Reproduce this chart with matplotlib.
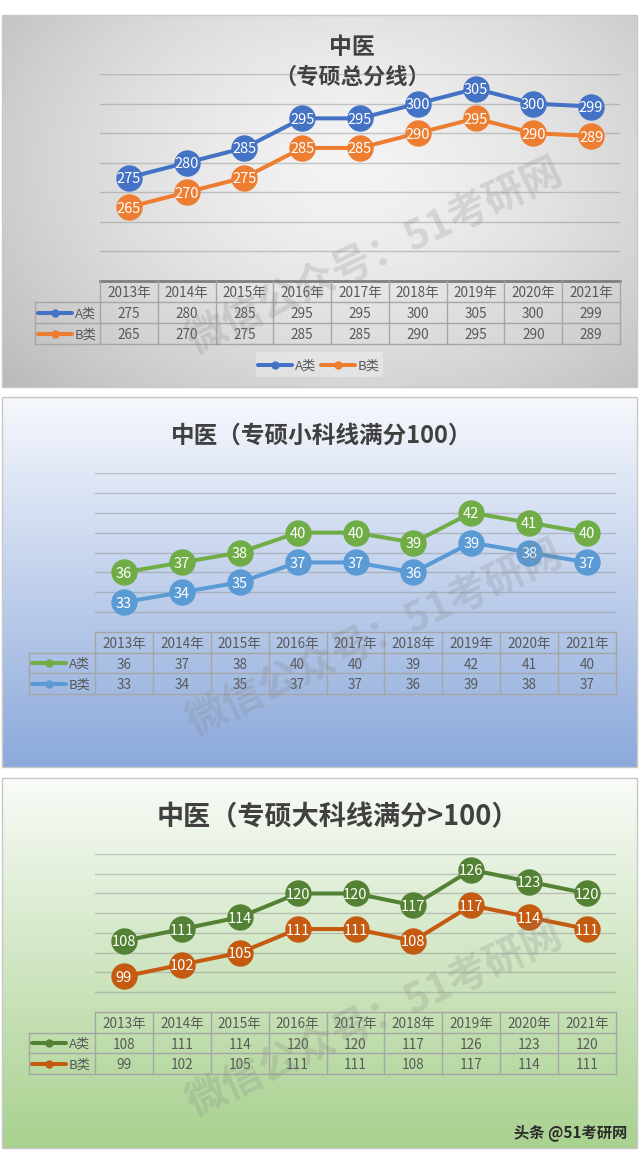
import numpy as np
import matplotlib
matplotlib.use('Agg')
import matplotlib.pyplot as plt
from matplotlib.patches import Rectangle

plt.rcParams['font.family'] = ['Noto Sans CJK SC', 'DejaVu Sans']

# data
years = ['2013年', '2014年', '2015年', '2016年', '2017年', '2018年', '2019年', '2020年', '2021年']
names = ['A类', 'B类']
total_a = [275, 280, 285, 295, 295, 300, 305, 300, 299]
total_b = [265, 270, 275, 285, 285, 290, 295, 290, 289]
small_a = [36, 37, 38, 40, 40, 39, 42, 41, 40]
small_b = [33, 34, 35, 37, 37, 36, 39, 38, 37]
big_a = [108, 111, 114, 120, 120, 117, 126, 123, 120]
big_b = [99, 102, 105, 111, 111, 108, 117, 114, 111]

W, H = 640, 1153
fig = plt.figure(figsize=(W / 100, H / 100), dpi=100)
bg = fig.add_axes([0, 0, 1, 1], zorder=0)
bg.set_xlim(0, W)
bg.set_ylim(H, 0)
bg.axis('off')

txt_gray = '#595959'
line_gray = '#a6a6a6'


def px_axes(x0, y0, x1, y1, z=2):
    ax = fig.add_axes([x0 / W, 1 - y1 / H, (x1 - x0) / W, (y1 - y0) / H], zorder=z)
    ax.set_facecolor('none')
    return ax


def linear_bg(y0, y1, top_rgb, bot_rgb):
    t = np.linspace(0, 1, 200)[:, None, None]
    img = np.array(top_rgb) * (1 - t) + np.array(bot_rgb) * t
    img = np.repeat(img, 2, axis=1)
    bg.imshow(img, extent=(2, 637, y1, y0), aspect='auto', zorder=0)
    bg.add_patch(Rectangle((2, y0), 635, y1 - y0, fill=False, ec='#c8c8c8', lw=1, zorder=1))


def radial_bg(y0, y1):
    yy, xx = np.mgrid[0:1:200j, 0:1:300j]
    r = np.sqrt(((xx - 0.55) / 0.6) ** 2 + ((yy - 0.4) / 0.75) ** 2)
    v = 0.955 - 0.17 * np.clip(r, 0, 1.2) ** 1.5
    img = np.dstack([v, v, v])
    bg.imshow(img, extent=(2, 637, y1, y0), aspect='auto', zorder=0)
    bg.add_patch(Rectangle((2, y0), 635, y1 - y0, fill=False, ec='#c8c8c8', lw=1, zorder=1))


def chart(box, lo, hi, step, a, b, ca, cb):
    ax = px_axes(*box)
    x = np.arange(len(years))
    ax.set_xlim(-0.5, len(years) - 0.5)
    ax.set_ylim(lo, hi)
    ax.set_yticks(np.arange(lo + step, hi + step / 2, step))
    ax.grid(axis='y', color='#8c8c8c', alpha=0.45, lw=1)
    ax.tick_params(left=False, bottom=False, labelleft=False, labelbottom=False)
    for s in ax.spines.values():
        s.set_visible(False)
    for vals, c in ((b, cb), (a, ca)):
        ax.plot(x, vals, color=c, lw=2.9, marker='o', ms=18, mec=c, clip_on=False, zorder=3)
        for xi, v in zip(x, vals):
            ax.text(xi, v, str(v), color='white', ha='center', va='center_baseline',
                    fontsize=10.5, zorder=4, clip_on=False)
    return ax


def legend_key(x, y, c, label):
    bg.plot([x, x + 34], [y, y], color=c, lw=2.9, solid_capstyle='round', zorder=3)
    bg.plot([x + 17], [y], 'o', color=c, ms=5, zorder=3)
    bg.text(x + 37, y, label, color=txt_gray, fontsize=9.5, ha='left', va='center_baseline', zorder=3)


def table(xl, x0, x1, yt, rh, a, b, ca, cb, top_c, top_lw):
    colw = (x1 - x0) / len(years)
    rows = [yt + k * rh for k in range(4)]
    bg.plot([x0, x1], [rows[0], rows[0]], color=top_c, lw=top_lw, zorder=2)
    for yy in rows[1:]:
        bg.plot([xl, x1], [yy, yy], color=line_gray, lw=1, zorder=2)
    for k in range(len(years) + 1):
        xx = x0 + k * colw
        bg.plot([xx, xx], [rows[0], rows[3]], color=line_gray, lw=1, zorder=2)
    bg.plot([xl, xl], [rows[1], rows[3]], color=line_gray, lw=1, zorder=2)
    for i, yr in enumerate(years):
        xc = x0 + (i + 0.5) * colw
        bg.text(xc, rows[0] + rh / 2, yr, color=txt_gray, fontsize=9.8, ha='center', va='center_baseline', zorder=3)
        bg.text(xc, rows[1] + rh / 2, str(a[i]), color=txt_gray, fontsize=9.8, ha='center', va='center_baseline', zorder=3)
        bg.text(xc, rows[2] + rh / 2, str(b[i]), color=txt_gray, fontsize=9.8, ha='center', va='center_baseline', zorder=3)
    legend_key(xl + 3, rows[1] + rh / 2, ca, names[0])
    legend_key(xl + 3, rows[2] + rh / 2, cb, names[1])


def watermark(top):
    wm = px_axes(0, top, W, top + 370, z=5)
    wm.set_xlim(0, W)
    wm.set_ylim(370, 0)
    wm.axis('off')
    wm.text(375, 241, '微信公众号：51考研网', fontsize=29, rotation=25, color='#808080', alpha=0.22,
            ha='center', va='center', fontweight='bold')


# panel 1: total
radial_bg(15, 387)
bg.text(352, 45, '中医', fontsize=16.5, fontweight='bold', color='#404040', ha='center', va='center_baseline', zorder=3)
bg.text(352, 75, '（专硕总分线）', fontsize=16, fontweight='bold', color='#404040', ha='center', va='center_baseline', zorder=3)
chart((100, 74, 620, 281), 240, 310, 10, total_a, total_b, '#4472C4', '#ED7D31')
table(35, 100, 620, 281, 21, total_a, total_b, '#4472C4', '#ED7D31', '#7f7f7f', 2)
bg.add_patch(Rectangle((256, 352), 127, 25, fc='white', alpha=0.3, ec='none', zorder=2))
legend_key(258, 364.5, '#4472C4', names[0])
legend_key(321, 364.5, '#ED7D31', names[1])
watermark(15)

# panel 2: small subjects
linear_bg(397, 767, (0.965, 0.972, 0.99), (0.55, 0.665, 0.86))
bg.text(322, 433, '中医（专硕小科线满分100）', fontsize=17, fontweight='bold', color='#404040',
        ha='center', va='center_baseline', zorder=3)
chart((95, 473, 616, 632), 30, 46, 2, small_a, small_b, '#70AD47', '#5B9BD5')
table(29, 95, 616, 632, 20.7, small_a, small_b, '#70AD47', '#5B9BD5', line_gray, 1)
watermark(397)

# panel 3: big subjects
linear_bg(778, 1148, (0.975, 0.985, 0.97), (0.66, 0.82, 0.56))
bg.text(338, 814, '中医（专硕大科线满分>100）', fontsize=19.5, fontweight='bold', color='#404040',
        ha='center', va='center_baseline', zorder=3)
chart((95, 854, 616, 1012), 90, 130, 5, big_a, big_b, '#548235', '#C55A11')
table(29, 95, 616, 1012, 20.7, big_a, big_b, '#548235', '#C55A11', line_gray, 1)
watermark(778)

bg.text(627, 1131, '头条 @51考研网', fontsize=11, color='#2b2b2b', fontweight='bold',
        ha='right', va='center_baseline', zorder=3)

fig.savefig('out.png', dpi=100)
